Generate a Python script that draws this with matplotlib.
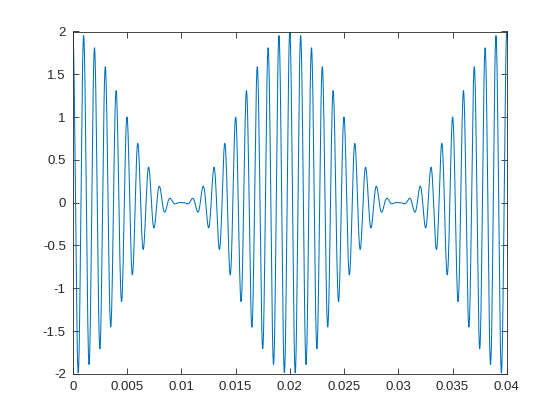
import numpy as np
import matplotlib
matplotlib.use("Agg")
import matplotlib.pyplot as plt

# Signal description (amplitude-modulated tone)
carrier_freq = 1000.0    # Hz, peaks every 0.001 s
mod_freq = 50.0          # Hz, envelope peaks at 0, 0.02, 0.04 s
sample_rate = 50000.0    # Hz
duration = 0.04          # s

x_ticks = [0, 0.005, 0.01, 0.015, 0.02, 0.025, 0.03, 0.035, 0.04]
x_tick_labels = ["0", "0.005", "0.01", "0.015", "0.02", "0.025", "0.03", "0.035", "0.04"]
y_ticks = [-2, -1.5, -1, -0.5, 0, 0.5, 1, 1.5, 2]
y_tick_labels = ["-2", "-1.5", "-1", "-0.5", "0", "0.5", "1", "1.5", "2"]

t = np.arange(0, duration + 0.5 / sample_rate, 1 / sample_rate)
y = (1 + np.cos(2 * np.pi * mod_freq * t)) * np.cos(2 * np.pi * carrier_freq * t)

plt.rcParams['font.family'] = ['Liberation Sans', 'DejaVu Sans']
fig = plt.figure(figsize=(5.6, 4.2), dpi=100)
ax = fig.add_axes([0.13, 0.11, 0.775, 0.815])
ax.plot(t, y, color='#0072BD', linewidth=0.75)
ax.set_xlim(0, 0.04)
ax.set_ylim(-2, 2)
ax.set_xticks(x_ticks)
ax.set_xticklabels(x_tick_labels)
ax.set_yticks(y_ticks)
ax.set_yticklabels(y_tick_labels)
axc = (0.15, 0.15, 0.15)
for s in ax.spines.values():
    s.set_color(axc)
    s.set_linewidth(0.6)
ax.tick_params(direction='in', length=4, width=0.6, colors=axc, labelsize=9.5,
               top=True, right=True, pad=5)
fig.savefig("out.png", dpi=100)
